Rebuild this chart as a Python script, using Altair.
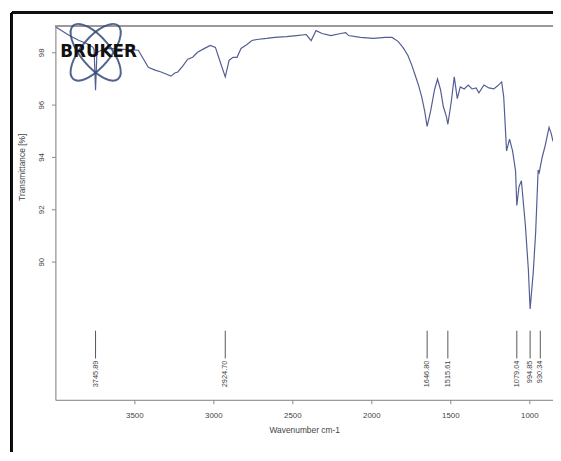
import altair as alt
import pandas as pd

# ---- spectrum ----
wavenumber = [4000, 3962, 3912, 3850, 3787, 3762, 3755, 3745.89, 3737, 3700, 3662, 3569, 3475,
              3412, 3369, 3331, 3300, 3269, 3244, 3225, 3194, 3162, 3131, 3100, 3056, 3019, 2987,
              2956, 2924.70, 2900, 2875, 2850, 2825, 2787, 2756, 2725, 2662, 2612, 2537, 2475,
              2412, 2381, 2350, 2312, 2256, 2194, 2162, 2144, 2069, 1987, 1912, 1869, 1831, 1800,
              1769, 1744, 1725, 1700, 1681, 1662, 1646.80, 1625, 1600, 1581, 1562, 1544, 1525,
              1515.61, 1494, 1475, 1456, 1437, 1412, 1387, 1362, 1337, 1319, 1287, 1256, 1225,
              1200, 1175, 1162, 1156, 1144, 1125, 1106, 1087, 1079.04, 1065, 1050, 1025, 1006,
              994.85, 975, 960, 944, 937, 930.34, 918, 900, 875, 862, 850]
transmittance = [98.98, 98.83, 98.64, 98.45, 98.30, 98.19, 98.10, 96.55, 98.00, 98.10, 98.15, 98.11, 98.08,
                 97.43, 97.32, 97.25, 97.17, 97.09, 97.21, 97.25, 97.47, 97.74, 97.81, 98.00, 98.15, 98.26, 98.19,
                 97.62, 97.06, 97.70, 97.81, 97.81, 98.15, 98.30, 98.45, 98.49, 98.53, 98.57, 98.60, 98.64,
                 98.68, 98.45, 98.83, 98.72, 98.64, 98.72, 98.75, 98.64, 98.57, 98.53, 98.57, 98.57, 98.42, 98.19,
                 97.89, 97.51, 97.17, 96.72, 96.30, 95.74, 95.17, 95.74, 96.57, 96.98, 96.57, 95.92, 95.55,
                 95.25, 96.11, 97.06, 96.23, 96.68, 96.60, 96.75, 96.60, 96.64, 96.45, 96.75, 96.64, 96.60,
                 96.72, 96.87, 96.30, 95.62, 94.23, 94.68, 94.23, 93.47, 92.15, 92.87, 93.09, 91.40, 89.70,
                 88.19, 89.60, 91.10, 93.50, 93.40, 93.62, 94.00, 94.42, 95.13, 94.91, 94.60]

# ---- peak picks ----
peak_wn = [3745.89, 2924.70, 1646.80, 1515.61, 1079.04, 994.85, 930.34]
peak_labels = ["3745.89", "2924.70", "1646.80", "1515.61", "1079.04", "994.85", "930.34"]

x_ticks = [3500, 3000, 2500, 2000, 1500, 1000]
y_ticks = [90, 92, 94, 96, 98]

W, H = 504, 379
X_DOMAIN = [4000, 850]
Y_DOMAIN = [84.72, 99.02]
FONT = "Liberation Sans"

spec = pd.DataFrame({"wn": wavenumber, "t": transmittance})
peaks = pd.DataFrame({"wn": peak_wn, "label": peak_labels, "y1": 86.30, "y2": 87.36, "ylab": 86.22})

xs = alt.Scale(domain=X_DOMAIN, nice=False, zero=False)
ys = alt.Scale(domain=Y_DOMAIN, nice=False, zero=False)

line = alt.Chart(spec).mark_line(color="#535d94", strokeWidth=1.2, clip=True).encode(
    x=alt.X("wn:Q", scale=xs, axis=alt.Axis(
        values=x_ticks, format="d", title="Wavenumber cm-1", grid=False, labelFontSize=8,
        titleFontSize=8.5, labelColor="#444", titleColor="#444", domainColor="#888",
        tickColor="#888", tickSize=4, labelPadding=8, titlePadding=6, labelFont=FONT,
        titleFont=FONT, titleFontWeight="normal")),
    y=alt.Y("t:Q", scale=ys, axis=alt.Axis(
        values=y_ticks, title="Transmittance [%]", grid=False, labelFontSize=8, titleFontSize=8.5,
        labelAngle=270, labelAlign="center", labelBaseline="bottom",
        labelColor="#444", titleColor="#444", domainColor="#888", tickColor="#888",
        tickSize=4, labelPadding=6, labelFont=FONT, titleFont=FONT, titleFontWeight="normal",
        titleX=-34, titleY=143, titleAngle=270, titleAlign="center", titleBaseline="middle")),
)

peak_rules = alt.Chart(peaks).mark_rule(color="#555", strokeWidth=1).encode(
    x=alt.X("wn:Q", scale=xs), y=alt.Y("y1:Q", scale=ys), y2="y2:Q")

peak_text = alt.Chart(peaks).mark_text(
    angle=270, align="right", baseline="middle", fontSize=7.5, font=FONT, color="#444"
).encode(x=alt.X("wn:Q", scale=xs), y=alt.Y("ylab:Q", scale=ys), text="label:N")

# top border of the plot frame
top_border = alt.Chart(spec).mark_rule(color="#999", strokeWidth=1).encode(
    x=alt.value(0), x2=alt.value(W), y=alt.value(0))

# outer black picture frame
frame_v = alt.Chart(spec).mark_rule(color="#111", strokeWidth=2).encode(
    x=alt.value(-44), y=alt.value(-13), y2=alt.value(440))
frame_h = alt.Chart(spec).mark_rule(color="#111", strokeWidth=2).encode(
    x=alt.value(-44), x2=alt.value(W + 10), y=alt.value(-13))

# Bruker logo
logo = pd.DataFrame({"wn": [3745, 3745], "t": [98.0, 98.0], "ang": [50, 130]})
orbit_path = "M -1 0 A 1 0.42 0 1 1 1 0 A 1 0.42 0 1 1 -1 0 Z"
orbits = alt.Chart(logo).mark_point(shape=orbit_path, filled=False, color="#34497a",
                                     strokeWidth=2, size=5000, opacity=0.85).encode(
    x=alt.X("wn:Q", scale=xs), y=alt.Y("t:Q", scale=ys), angle=alt.Angle("ang:Q", scale=None))
logo_text = alt.Chart(pd.DataFrame({"wn": [3745], "t": [98.0], "s": ["BRUKER"]})).mark_text(
    font="DejaVu Sans", fontWeight="bold", fontSize=17, color="#111", align="center",
    baseline="middle", dx=3).encode(
    x=alt.X("wn:Q", scale=xs), y=alt.Y("t:Q", scale=ys), text="s:N")

chart = alt.layer(line, peak_rules, peak_text, top_border, frame_v, frame_h, orbits, logo_text).properties(
    width=W, height=H,
    autosize=alt.AutoSizeParams(type="none"),
    padding={"left": 48, "top": 15, "right": 0, "bottom": 50},
).configure_view(stroke=None).configure(background="white")

chart.save("out.html", embed_options={"renderer": "svg", "actions": False})
